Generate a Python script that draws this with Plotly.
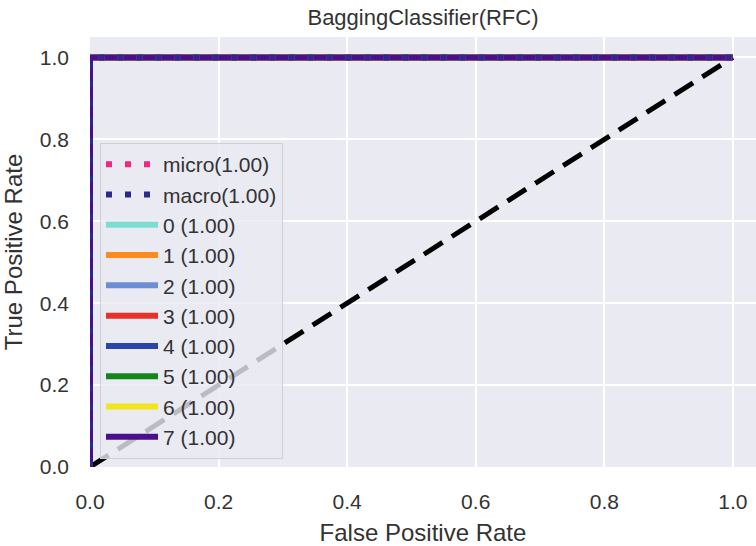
import plotly.graph_objects as go

# ROC curves: every class (and the micro/macro averages) reaches a perfect score
class_names = ["0", "1", "2", "3", "4", "5", "6", "7"]
class_auc = [1.00, 1.00, 1.00, 1.00, 1.00, 1.00, 1.00, 1.00]
class_colors = ["#7fdcd3", "#ff8a1e", "#6a8fd6", "#e63228", "#2b44a8",
                "#13861c", "#f2e41a", "#4a0f8c"]

micro_auc = 1.00
macro_auc = 1.00

# ROC points (FPR, TPR) shared by all curves
roc_fpr = [0.0, 0.0, 1.0]
roc_tpr = [0.0, 1.0, 1.0]

# chance diagonal
chance_x = [0.0, 1.0]
chance_y = [0.0, 1.0]

x_ticks = [0.0, 0.2, 0.4, 0.6, 0.8, 1.0]
y_ticks = [0.0, 0.2, 0.4, 0.6, 0.8, 1.0]

FONT = "Liberation Sans, Arial, sans-serif"
TEXT = "#333333"

fig = go.Figure()

fig.add_trace(go.Scatter(
    x=chance_x, y=chance_y, mode="lines", showlegend=False,
    line=dict(color="black", width=5, dash="22px,11px"), hoverinfo="skip"))

for i, (name, auc, col) in enumerate(zip(class_names, class_auc, class_colors)):
    fig.add_trace(go.Scatter(
        x=roc_fpr, y=roc_tpr, mode="lines",
        name=f"{name} ({auc:.2f})", legendrank=10 + i,
        line=dict(color=col, width=6)))

fig.add_trace(go.Scatter(
    x=roc_fpr, y=roc_tpr, mode="lines",
    name=f"micro({micro_auc:.2f})", legendrank=1,
    line=dict(color="#f0287e", width=6, dash="6px,13px")))
fig.add_trace(go.Scatter(
    x=roc_fpr, y=roc_tpr, mode="lines",
    name=f"macro({macro_auc:.2f})", legendrank=2,
    line=dict(color="#2a2a8c", width=6, dash="6px,13px")))

axis_common = dict(
    showgrid=True, gridcolor="white", gridwidth=2, zeroline=False,
    showline=False, ticks="", ticklabelstandoff=20,
    tickfont=dict(family=FONT, size=21, color=TEXT),
    tickformat=".1f",
)

fig.update_layout(
    width=756, height=546,
    margin=dict(l=90, r=0, t=37, b=79),
    paper_bgcolor="white", plot_bgcolor="#EAEAF2",
    title=dict(text="BaggingClassifier(RFC)", x=0.5, xref="paper",
               y=1 - 17 / 546, yanchor="middle",
               font=dict(family=FONT, size=22, color=TEXT)),
    xaxis=dict(range=[0, 1.036], tickvals=x_ticks,
               title=dict(text="False Positive Rate", standoff=14,
                          font=dict(family=FONT, size=24, color=TEXT)),
               **axis_common),
    yaxis=dict(range=[0, 1.05], tickvals=y_ticks,
               title=dict(text="True Positive Rate", standoff=12,
                          font=dict(family=FONT, size=24, color=TEXT)),
               **axis_common),
    legend=dict(x=10 / 666, y=1 - (143 - 37) / 430, xanchor="left", yanchor="top",
                bgcolor="rgba(234,234,242,0.8)", bordercolor="#cfcfd6", borderwidth=1,
                font=dict(family=FONT, size=21, color=TEXT),
                itemwidth=52, traceorder="normal"),
)

fig.write_html("out.html")
